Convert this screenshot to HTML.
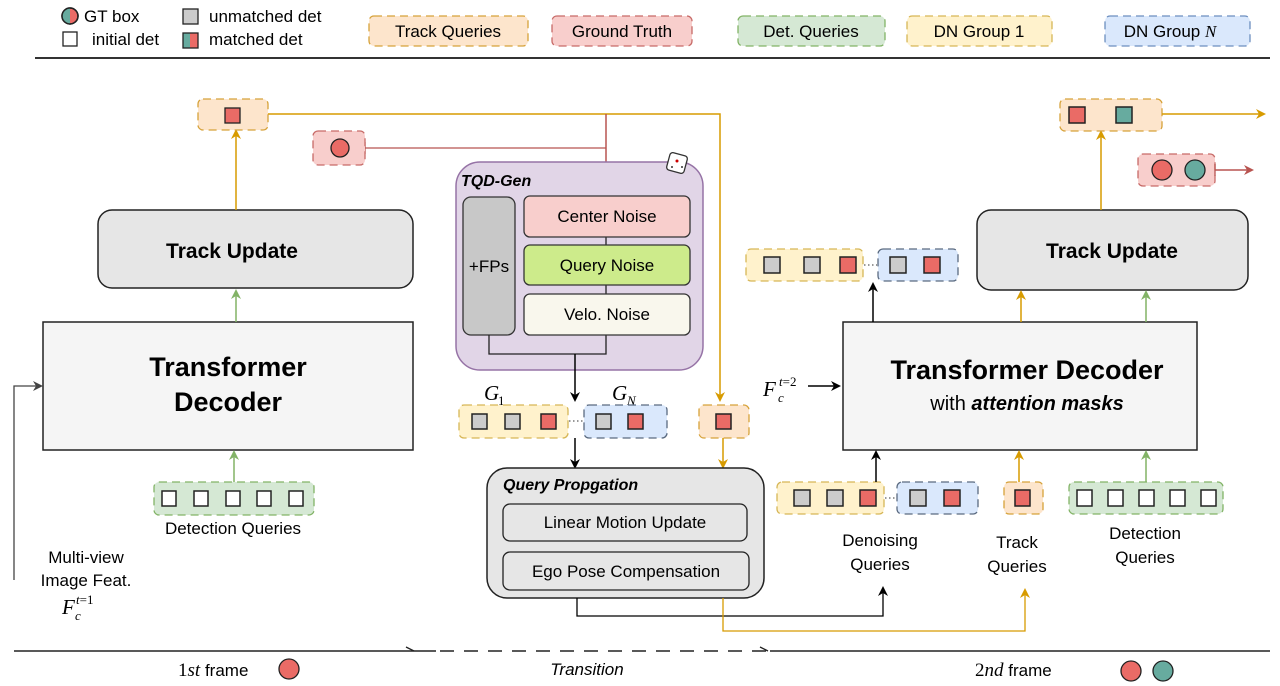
<!DOCTYPE html>
<html><head><meta charset="utf-8"><style>
html,body{margin:0;padding:0;background:#fff;}
svg{display:block;font-family:"Liberation Sans",sans-serif;}
</style></head><body>
<svg width="1280" height="686" viewBox="0 0 1280 686" xmlns="http://www.w3.org/2000/svg">
<defs>
<marker id="ao" markerWidth="10" markerHeight="10" refX="8" refY="5" orient="auto" markerUnits="userSpaceOnUse"><path d="M0,0 L10,5 L0,10 L3,5 z" fill="#d79b00"/></marker>
<marker id="ag" markerWidth="10" markerHeight="10" refX="8" refY="5" orient="auto" markerUnits="userSpaceOnUse"><path d="M0,0 L10,5 L0,10 L3,5 z" fill="#82b366"/></marker>
<marker id="ak" markerWidth="10" markerHeight="10" refX="8" refY="5" orient="auto" markerUnits="userSpaceOnUse"><path d="M0,0 L10,5 L0,10 L3,5 z" fill="#000"/></marker>
<marker id="ar" markerWidth="10" markerHeight="10" refX="8" refY="5" orient="auto" markerUnits="userSpaceOnUse"><path d="M0,0 L10,5 L0,10 L3,5 z" fill="#b85450"/></marker>
<marker id="ay" markerWidth="10" markerHeight="10" refX="8" refY="5" orient="auto" markerUnits="userSpaceOnUse"><path d="M0,0 L10,5 L0,10 L3,5 z" fill="#444"/></marker>
</defs>

<!-- Legend -->
<circle cx="70" cy="16" r="8" fill="#ea6b66" stroke="#222" stroke-width="1.5"/>
<path d="M70,8 A8,8 0 0 0 70,24 z" fill="#67ab9f"/>
<circle cx="70" cy="16" r="8" fill="none" stroke="#222" stroke-width="1.5"/>
<text x="84" y="22" font-size="17">GT box</text>
<rect x="63" y="32" width="14" height="14" fill="#fff" stroke="#222" stroke-width="1.3"/>
<text x="92" y="45" font-size="17">initial det</text>
<rect x="183" y="9" width="15" height="15" fill="#ccc" stroke="#222" stroke-width="1.3"/>
<text x="209" y="22" font-size="17">unmatched det</text>
<rect x="183" y="33" width="7" height="15" fill="#67ab9f"/><rect x="190" y="33" width="8" height="15" fill="#ea6b66"/>
<rect x="183" y="33" width="15" height="15" fill="none" stroke="#222" stroke-width="1.3"/>
<text x="209" y="45" font-size="17">matched det</text>

<g font-size="17" text-anchor="middle" stroke-dasharray="8,5" stroke-width="1.3">
<rect x="369" y="16" width="159" height="30" rx="5" fill="#fde5cc" stroke="#d6a23a"/>
<text x="448" y="37" stroke="none">Track Queries</text>
<rect x="552" y="16" width="140" height="30" rx="5" fill="#f8cecc" stroke="#c76a67"/>
<text x="622" y="37" stroke="none">Ground Truth</text>
<rect x="738" y="16" width="147" height="30" rx="5" fill="#d5e8d4" stroke="#82b366"/>
<text x="811" y="37" stroke="none">Det. Queries</text>
<rect x="907" y="16" width="145" height="30" rx="5" fill="#fff2cc" stroke="#d6b656"/>
<text x="979" y="37" stroke="none">DN Group 1</text>
<rect x="1105" y="16" width="145" height="30" rx="5" fill="#dae8fc" stroke="#6c8ebf"/>
<text x="1170" y="37" stroke="none">DN Group <tspan font-family="Liberation Serif" font-style="italic">N</tspan></text>
</g>
<line x1="35" y1="58" x2="1270" y2="58" stroke="#333" stroke-width="2"/>

<!-- connectors top -->
<polyline points="268,114 720,114 720,400" fill="none" stroke="#d79b00" stroke-width="1.5" marker-end="url(#ao)"/>
<polyline points="606,114 606,194" fill="none" stroke="#b85450" stroke-width="1.5" marker-end="url(#ar)"/>
<line x1="365" y1="148" x2="606" y2="148" stroke="#b85450" stroke-width="1.3"/>
<line x1="365" y1="142" x2="365" y2="154" stroke="#b85450" stroke-width="1.3"/>

<!-- left column -->
<rect x="98" y="210" width="315" height="78" rx="14" fill="#e6e6e6" stroke="#222" stroke-width="1.5"/>
<text x="232" y="258" font-size="21" font-weight="bold" text-anchor="middle">Track Update</text>
<rect x="43" y="322" width="370" height="128" fill="#f5f5f5" stroke="#222" stroke-width="1.5"/>
<text x="228" y="376" font-size="27" font-weight="bold" text-anchor="middle">Transformer</text>
<text x="228" y="411" font-size="27" font-weight="bold" text-anchor="middle">Decoder</text>
<line x1="236" y1="210" x2="236" y2="131" stroke="#d79b00" stroke-width="1.5" marker-end="url(#ao)"/>
<line x1="236" y1="322" x2="236" y2="291" stroke="#82b366" stroke-width="1.5" marker-end="url(#ag)"/>
<line x1="234" y1="482" x2="234" y2="452" stroke="#82b366" stroke-width="1.5" marker-end="url(#ag)"/>
<rect x="198" y="99" width="70" height="31" rx="5" fill="#fde5cc" stroke="#d6a23a" stroke-dasharray="8,5" stroke-width="1.3"/>
<rect x="225" y="108" width="15" height="15" fill="#ea6b66" stroke="#222" stroke-width="1.3"/>
<rect x="313" y="131" width="52" height="34" rx="5" fill="#f8cecc" stroke="#c76a67" stroke-dasharray="8,5" stroke-width="1.3"/>
<circle cx="340" cy="148" r="9" fill="#ea6b66" stroke="#222" stroke-width="1.3"/>

<rect x="154" y="482" width="160" height="33" rx="5" fill="#d5e8d4" stroke="#82b366" stroke-dasharray="8,5" stroke-width="1.3"/>
<g fill="#fff" stroke="#222" stroke-width="1.5">
<rect x="162" y="491" width="14" height="15"/><rect x="194" y="491" width="14" height="15"/><rect x="226" y="491" width="14" height="15"/><rect x="257" y="491" width="14" height="15"/><rect x="289" y="491" width="14" height="15"/>
</g>
<text x="233" y="534" font-size="17" text-anchor="middle">Detection Queries</text>

<polyline points="14,580 14,386 41,386" fill="none" stroke="#444" stroke-width="1.3" marker-end="url(#ay)"/>
<g font-size="17" text-anchor="middle">
<text x="86" y="563">Multi-view</text>
<text x="86" y="586">Image Feat.</text>
</g>
<text x="62" y="614" font-size="21" font-family="Liberation Serif" font-style="italic">F</text>
<text x="76" y="604" font-size="13" font-family="Liberation Serif" font-style="italic">t<tspan font-style="normal">=1</tspan></text>
<text x="75" y="620" font-size="13" font-family="Liberation Serif" font-style="italic">c</text>

<!-- TQD-Gen -->
<rect x="456" y="162" width="247" height="208" rx="24" fill="#e1d5e7" stroke="#9673a6" stroke-width="1.5"/>
<text x="461" y="186" font-size="16" font-weight="bold" font-style="italic">TQD-Gen</text>
<rect x="668" y="154" width="18" height="18" rx="3" fill="#fff" stroke="#333" stroke-width="1.3" transform="rotate(15 677 163)"/>
<circle cx="677" cy="161" r="1.5" fill="#c00"/><circle cx="672" cy="167" r="1" fill="#333"/><circle cx="682" cy="167" r="1" fill="#333"/>
<rect x="463" y="197" width="52" height="138" rx="8" fill="#c8c8c8" stroke="#333" stroke-width="1.3"/>
<text x="489" y="272" font-size="17" text-anchor="middle">+FPs</text>
<polyline points="489,335 489,354 606,354 606,335" fill="none" stroke="#222" stroke-width="1.3"/>
<line x1="606" y1="237" x2="606" y2="245" stroke="#222" stroke-width="1.3"/>
<line x1="606" y1="285" x2="606" y2="294" stroke="#222" stroke-width="1.3"/>
<rect x="524" y="196" width="166" height="41" rx="6" fill="#f8cecc" stroke="#333" stroke-width="1.3"/>
<text x="607" y="222" font-size="17" text-anchor="middle">Center Noise</text>
<rect x="524" y="245" width="166" height="40" rx="6" fill="#cdeb8b" stroke="#333" stroke-width="1.3"/>
<text x="607" y="271" font-size="17" text-anchor="middle">Query Noise</text>
<rect x="524" y="294" width="166" height="41" rx="6" fill="#f9f7ed" stroke="#333" stroke-width="1.3"/>
<text x="607" y="320" font-size="17" text-anchor="middle">Velo. Noise</text>
<line x1="575" y1="354" x2="575" y2="400" stroke="#000" stroke-width="1.5" marker-end="url(#ak)"/>

<!-- G groups -->
<text x="484" y="400" font-size="21" font-family="Liberation Serif" font-style="italic">G</text>
<text x="498" y="405" font-size="13" font-family="Liberation Serif">1</text>
<text x="612" y="400" font-size="21" font-family="Liberation Serif" font-style="italic">G</text>
<text x="627" y="405" font-size="13" font-family="Liberation Serif" font-style="italic">N</text>
<rect x="459" y="405" width="109" height="33" rx="5" fill="#fff2cc" stroke="#d6b656" stroke-dasharray="8,5" stroke-width="1.3"/>
<rect x="584" y="405" width="83" height="33" rx="5" fill="#dae8fc" stroke="#5a6a80" stroke-dasharray="8,5" stroke-width="1.3"/>
<line x1="569" y1="421" x2="583" y2="421" stroke="#333" stroke-dasharray="1.5,2.5"/>
<g stroke="#222" stroke-width="1.5">
<rect x="472" y="414" width="15" height="15" fill="#ccc"/><rect x="505" y="414" width="15" height="15" fill="#ccc"/><rect x="541" y="414" width="15" height="15" fill="#ea6b66"/>
<rect x="596" y="414" width="15" height="15" fill="#ccc"/><rect x="628" y="414" width="15" height="15" fill="#ea6b66"/>
</g>
<line x1="575" y1="438" x2="575" y2="467" stroke="#000" stroke-width="1.5" marker-end="url(#ak)"/>
<rect x="699" y="405" width="50" height="33" rx="5" fill="#fde5cc" stroke="#d6a23a" stroke-dasharray="8,5" stroke-width="1.3"/>
<rect x="716" y="414" width="15" height="15" fill="#ea6b66" stroke="#222" stroke-width="1.5"/>
<line x1="723" y1="438" x2="723" y2="467" stroke="#d79b00" stroke-width="1.5" marker-end="url(#ao)"/>

<!-- Query Propagation -->
<rect x="487" y="468" width="277" height="130" rx="20" fill="#e6e6e6" stroke="#222" stroke-width="1.5"/>
<text x="503" y="490" font-size="16" font-weight="bold" font-style="italic">Query Propgation</text>
<rect x="503" y="504" width="244" height="37" rx="7" fill="#e6e6e6" stroke="#222" stroke-width="1.3"/>
<text x="625" y="528" font-size="17" text-anchor="middle">Linear Motion Update</text>
<rect x="503" y="552" width="246" height="38" rx="7" fill="#e6e6e6" stroke="#222" stroke-width="1.3"/>
<text x="626" y="577" font-size="17" text-anchor="middle">Ego Pose Compensation</text>
<polyline points="577,598 577,616 883,616 883,588" fill="none" stroke="#000" stroke-width="1.3" marker-end="url(#ak)"/>
<polyline points="723,598 723,631 1025,631 1025,590" fill="none" stroke="#d79b00" stroke-width="1.3" marker-end="url(#ao)"/>

<!-- Right side -->
<rect x="977" y="210" width="271" height="80" rx="14" fill="#e6e6e6" stroke="#222" stroke-width="1.5"/>
<text x="1112" y="258" font-size="21" font-weight="bold" text-anchor="middle">Track Update</text>
<rect x="843" y="322" width="354" height="128" fill="#f5f5f5" stroke="#222" stroke-width="1.5"/>
<text x="1027" y="379" font-size="27" font-weight="bold" text-anchor="middle">Transformer Decoder</text>
<text x="1027" y="410" font-size="20" text-anchor="middle">with <tspan font-weight="bold" font-style="italic">attention masks</tspan></text>
<line x1="1101" y1="210" x2="1101" y2="132" stroke="#d79b00" stroke-width="1.5" marker-end="url(#ao)"/>
<line x1="1021" y1="322" x2="1021" y2="292" stroke="#d79b00" stroke-width="1.5" marker-end="url(#ao)"/>
<line x1="1146" y1="322" x2="1146" y2="292" stroke="#82b366" stroke-width="1.5" marker-end="url(#ag)"/>
<line x1="873" y1="322" x2="873" y2="284" stroke="#000" stroke-width="1.5" marker-end="url(#ak)"/>

<rect x="1060" y="99" width="102" height="32" rx="5" fill="#fde5cc" stroke="#d6a23a" stroke-dasharray="8,5" stroke-width="1.3"/>
<rect x="1069" y="107" width="16" height="16" fill="#ea6b66" stroke="#222" stroke-width="1.5"/>
<rect x="1116" y="107" width="16" height="16" fill="#67ab9f" stroke="#222" stroke-width="1.5"/>
<line x1="1162" y1="114" x2="1264" y2="114" stroke="#d79b00" stroke-width="1.5" marker-end="url(#ao)"/>
<rect x="1138" y="154" width="77" height="32" rx="5" fill="#f8cecc" stroke="#c76a67" stroke-dasharray="8,5" stroke-width="1.3"/>
<circle cx="1162" cy="170" r="10" fill="#ea6b66" stroke="#222" stroke-width="1.3"/>
<circle cx="1195" cy="170" r="10" fill="#67ab9f" stroke="#222" stroke-width="1.3"/>
<line x1="1215" y1="170" x2="1252" y2="170" stroke="#b85450" stroke-width="1.5" marker-end="url(#ar)"/>
<line x1="1215" y1="164" x2="1215" y2="176" stroke="#b85450" stroke-width="1.3"/>

<!-- upper DN output -->
<rect x="746" y="249" width="117" height="32" rx="5" fill="#fff2cc" stroke="#d6b656" stroke-dasharray="8,5" stroke-width="1.3"/>
<rect x="878" y="249" width="80" height="32" rx="5" fill="#dae8fc" stroke="#5a6a80" stroke-dasharray="8,5" stroke-width="1.3"/>
<line x1="864" y1="265" x2="877" y2="265" stroke="#333" stroke-dasharray="1.5,2.5"/>
<g stroke="#222" stroke-width="1.5">
<rect x="764" y="257" width="16" height="16" fill="#ccc"/><rect x="804" y="257" width="16" height="16" fill="#ccc"/><rect x="840" y="257" width="16" height="16" fill="#ea6b66"/>
<rect x="890" y="257" width="16" height="16" fill="#ccc"/><rect x="924" y="257" width="16" height="16" fill="#ea6b66"/>
</g>

<text x="763" y="396" font-size="21" font-family="Liberation Serif" font-style="italic">F</text>
<text x="779" y="386" font-size="13" font-family="Liberation Serif" font-style="italic">t<tspan font-style="normal">=2</tspan></text>
<text x="778" y="402" font-size="13" font-family="Liberation Serif" font-style="italic">c</text>
<line x1="808" y1="386" x2="839" y2="386" stroke="#000" stroke-width="1.5" marker-end="url(#ak)"/>

<!-- bottom right queries -->
<rect x="777" y="482" width="107" height="32" rx="5" fill="#fff2cc" stroke="#d6b656" stroke-dasharray="8,5" stroke-width="1.3"/>
<rect x="897" y="482" width="81" height="32" rx="5" fill="#dae8fc" stroke="#5a6a80" stroke-dasharray="8,5" stroke-width="1.3"/>
<line x1="885" y1="498" x2="896" y2="498" stroke="#333" stroke-dasharray="1.5,2.5"/>
<rect x="1004" y="482" width="39" height="32" rx="5" fill="#fde5cc" stroke="#d6a23a" stroke-dasharray="8,5" stroke-width="1.3"/>
<rect x="1069" y="482" width="154" height="32" rx="5" fill="#d5e8d4" stroke="#82b366" stroke-dasharray="8,5" stroke-width="1.3"/>
<g stroke="#222" stroke-width="1.5">
<rect x="794" y="490" width="16" height="16" fill="#ccc"/><rect x="827" y="490" width="16" height="16" fill="#ccc"/><rect x="860" y="490" width="16" height="16" fill="#ea6b66"/>
<rect x="910" y="490" width="16" height="16" fill="#ccc"/><rect x="944" y="490" width="16" height="16" fill="#ea6b66"/>
<rect x="1015" y="490" width="15" height="16" fill="#ea6b66"/>
<rect x="1077" y="490" width="15" height="16" fill="#fff"/><rect x="1108" y="490" width="15" height="16" fill="#fff"/><rect x="1139" y="490" width="15" height="16" fill="#fff"/><rect x="1170" y="490" width="15" height="16" fill="#fff"/><rect x="1201" y="490" width="15" height="16" fill="#fff"/>
</g>
<line x1="876" y1="482" x2="876" y2="452" stroke="#000" stroke-width="1.5" marker-end="url(#ak)"/>
<line x1="1019" y1="482" x2="1019" y2="452" stroke="#d79b00" stroke-width="1.5" marker-end="url(#ao)"/>
<line x1="1146" y1="482" x2="1146" y2="452" stroke="#82b366" stroke-width="1.5" marker-end="url(#ag)"/>
<g font-size="17" text-anchor="middle">
<text x="880" y="546">Denoising</text><text x="880" y="570">Queries</text>
<text x="1017" y="548">Track</text><text x="1017" y="572">Queries</text>
<text x="1145" y="539">Detection</text><text x="1145" y="563">Queries</text>
</g>

<!-- timeline -->
<line x1="14" y1="651" x2="436" y2="651" stroke="#222" stroke-width="1.5"/>
<path d="M406,647 L414,651" stroke="#222" stroke-width="1.3"/>
<line x1="440" y1="651" x2="770" y2="651" stroke="#222" stroke-width="1.5" stroke-dasharray="14,10"/>
<path d="M760,647 L768,651" stroke="#222" stroke-width="1.3"/>
<line x1="770" y1="651" x2="1270" y2="651" stroke="#222" stroke-width="1.5"/>
<text x="178" y="676" font-size="19" font-family="Liberation Serif">1<tspan font-style="italic">st</tspan> <tspan font-family="Liberation Sans" font-size="17">frame</tspan></text>
<circle cx="289" cy="669" r="10" fill="#ea6b66" stroke="#222" stroke-width="1.3"/>
<text x="587" y="675" font-size="17" font-style="italic" text-anchor="middle">Transition</text>
<text x="975" y="676" font-size="19" font-family="Liberation Serif">2<tspan font-style="italic">nd</tspan> <tspan font-family="Liberation Sans" font-size="17">frame</tspan></text>
<circle cx="1131" cy="671" r="10" fill="#ea6b66" stroke="#222" stroke-width="1.3"/>
<circle cx="1163" cy="671" r="10" fill="#67ab9f" stroke="#222" stroke-width="1.3"/>
</svg>
</body></html>
